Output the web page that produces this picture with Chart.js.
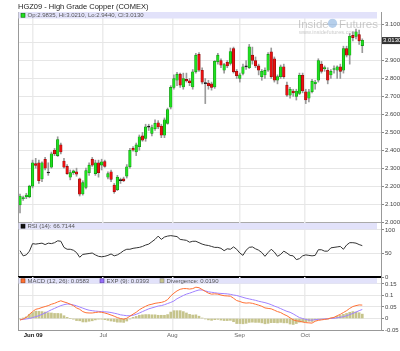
<!DOCTYPE html>
<html>
<head>
<meta charset="utf-8">
<script src="https://cdn.jsdelivr.net/npm/chart.js@4.4.0/dist/chart.umd.min.js"></script>
<style>
  body { margin: 0; background: #fff; width: 400px; height: 351px; overflow: hidden; }
  canvas { position: absolute; left: 0; top: 0; }
</style>
</head>
<body>
<canvas id="main" width="400" height="351"></canvas>
<canvas id="rsi" width="400" height="351"></canvas>
<canvas id="macd" width="400" height="351"></canvas>
<script>
// daily candles, late May to late Oct 2009
var opens = [2.095,2.130,2.140,2.140,2.200,2.325,2.330,2.240,2.350,2.273,2.305,2.400,2.370,2.430,2.340,2.310,2.250,2.275,2.280,2.240,
  2.156,2.193,2.275,2.350,2.270,2.330,2.317,2.337,2.250,2.280,2.206,2.180,2.231,2.240,2.256,2.308,2.410,2.390,2.420,2.480,
  2.466,2.529,2.494,2.520,2.553,2.535,2.484,2.550,2.640,2.750,2.790,2.824,2.753,2.795,2.787,2.753,2.837,2.934,2.846,2.772,
  2.775,2.770,2.753,2.893,2.900,2.846,2.890,2.884,2.967,2.840,2.800,2.828,2.866,2.860,2.930,2.900,2.870,2.810,2.820,2.846,
  2.948,2.910,2.790,2.810,2.865,2.763,2.707,2.730,2.700,2.717,2.818,2.726,2.690,2.726,2.770,2.790,2.880,2.855,2.846,2.820,
  2.850,2.846,2.865,2.846,2.967,2.930,3.040,3.035,3.045,2.9835];
var highs = [2.155,2.145,2.160,2.205,2.345,2.355,2.345,2.335,2.360,2.330,2.390,2.410,2.475,2.440,2.355,2.320,2.290,2.290,2.300,2.245,
  2.230,2.300,2.330,2.360,2.345,2.345,2.350,2.345,2.280,2.290,2.215,2.260,2.245,2.250,2.320,2.410,2.420,2.440,2.485,2.500,
  2.545,2.545,2.540,2.570,2.565,2.545,2.580,2.635,2.760,2.820,2.835,2.830,2.830,2.830,2.800,2.850,2.940,2.945,2.860,2.800,
  2.790,2.780,2.900,2.940,2.910,2.885,2.900,2.970,2.975,2.850,2.830,2.880,2.900,2.990,2.975,2.920,2.880,2.850,2.860,2.945,
  2.970,2.920,2.820,2.875,2.880,2.780,2.750,2.740,2.740,2.830,2.830,2.740,2.740,2.795,2.790,2.910,2.895,2.870,2.860,2.850,
  2.870,2.870,2.880,2.980,2.980,3.050,3.060,3.075,3.070,3.0210];
var lows = [2.050,2.120,2.130,2.135,2.190,2.300,2.215,2.225,2.290,2.260,2.300,2.370,2.365,2.380,2.300,2.265,2.235,2.265,2.255,2.145,
  2.150,2.185,2.260,2.310,2.260,2.250,2.290,2.305,2.240,2.225,2.160,2.175,2.215,2.225,2.245,2.300,2.395,2.370,2.400,2.450,
  2.450,2.510,2.480,2.510,2.520,2.470,2.470,2.545,2.630,2.740,2.760,2.750,2.740,2.780,2.760,2.740,2.830,2.840,2.770,2.660,
  2.740,2.735,2.745,2.880,2.860,2.830,2.860,2.875,2.830,2.800,2.780,2.820,2.850,2.855,2.880,2.860,2.820,2.790,2.800,2.840,
  2.800,2.780,2.770,2.800,2.800,2.700,2.690,2.700,2.680,2.710,2.720,2.660,2.670,2.720,2.740,2.780,2.830,2.840,2.770,2.800,
  2.830,2.800,2.800,2.830,2.920,2.880,3.010,3.020,2.990,2.9440];
var closes = [2.145,2.135,2.150,2.200,2.330,2.315,2.230,2.330,2.300,2.275,2.380,2.380,2.460,2.390,2.305,2.270,2.275,2.285,2.267,2.155,
  2.220,2.286,2.317,2.317,2.330,2.275,2.336,2.310,2.270,2.238,2.169,2.250,2.232,2.230,2.308,2.400,2.400,2.430,2.475,2.456,
  2.530,2.531,2.527,2.550,2.530,2.484,2.570,2.627,2.750,2.800,2.824,2.763,2.800,2.787,2.776,2.837,2.930,2.846,2.780,2.771,
  2.760,2.750,2.896,2.930,2.874,2.878,2.870,2.950,2.837,2.815,2.820,2.865,2.865,2.976,2.900,2.870,2.846,2.840,2.845,2.934,
  2.810,2.790,2.810,2.865,2.810,2.707,2.740,2.720,2.730,2.818,2.730,2.680,2.726,2.785,2.780,2.900,2.840,2.860,2.790,2.840,
  2.855,2.865,2.840,2.967,2.930,3.035,3.028,3.060,3.010,3.0130];

var rsi = [56,45,47,55,71,70,71,72,69,72,71,73,77,76,63,59,59,57,52,42,
  48,49,50,51,47,44,43,44,46,49,45,47,51,56,59,59,61,62,63,65,
  68,70,75,80,87,80,85,87,88,87,86,80,79,78,74,76,76,73,70,68,
  67,65,63,63,61,56,60,59,64,59,51,46,57,63,64,60,57,52,44,52,
  59,53,44,48,55,51,46,45,37,39,45,47,46,45,46,58,58,55,55,62,
  63,64,65,59,68,73,73,72,69,66.7144];

var macd = [-0.007,-0.002,0.005,0.018,0.030,0.040,0.043,0.048,0.052,0.056,0.062,0.066,0.072,0.077,0.072,0.068,0.062,0.056,0.046,0.040,
  0.030,0.025,0.024,0.024,0.026,0.028,0.027,0.024,0.020,0.015,0.010,0.004,0.000,-0.003,0.001,0.010,0.019,0.027,0.038,0.046,
  0.053,0.059,0.062,0.066,0.068,0.070,0.074,0.082,0.098,0.110,0.120,0.127,0.130,0.130,0.128,0.130,0.136,0.134,0.126,0.118,
  0.110,0.106,0.107,0.106,0.102,0.099,0.098,0.097,0.088,0.078,0.074,0.069,0.067,0.068,0.066,0.062,0.058,0.053,0.046,0.044,
  0.042,0.036,0.030,0.026,0.018,0.012,0.003,-0.006,-0.010,-0.012,-0.015,-0.018,-0.019,-0.020,-0.012,-0.008,-0.006,-0.004,-0.002,0.002,
  0.005,0.012,0.018,0.026,0.034,0.044,0.052,0.056,0.059,0.0583];
var signal = [-0.005,-0.004,-0.002,0.000,0.004,0.008,0.012,0.018,0.024,0.031,0.038,0.044,0.050,0.056,0.060,0.063,0.062,0.059,0.055,0.050,
  0.045,0.040,0.036,0.034,0.032,0.031,0.030,0.029,0.028,0.026,0.023,0.020,0.016,0.014,0.012,0.012,0.014,0.018,0.024,0.030,
  0.036,0.042,0.046,0.050,0.054,0.056,0.060,0.065,0.070,0.076,0.086,0.093,0.100,0.106,0.110,0.115,0.120,0.124,0.124,0.120,
  0.116,0.114,0.112,0.110,0.109,0.108,0.107,0.105,0.102,0.100,0.096,0.092,0.088,0.085,0.082,0.079,0.075,0.072,0.069,0.065,
  0.060,0.054,0.049,0.043,0.037,0.031,0.027,0.020,0.012,0.004,0.000,-0.004,-0.007,-0.007,-0.005,-0.004,-0.003,-0.002,-0.001,0.000,
  0.001,0.003,0.005,0.008,0.012,0.017,0.022,0.028,0.034,0.0393];
var divergence = [-0.002,0.002,0.007,0.018,0.026,0.032,0.031,0.030,0.028,0.025,0.024,0.022,0.022,0.021,0.012,0.005,0.000,-0.003,-0.009,-0.010,
  -0.015,-0.015,-0.012,-0.010,-0.006,-0.003,-0.003,-0.005,-0.008,-0.011,-0.013,-0.016,-0.016,-0.017,-0.011,-0.002,0.005,0.009,0.014,0.016,
  0.017,0.017,0.016,0.016,0.014,0.014,0.014,0.017,0.028,0.034,0.034,0.034,0.030,0.024,0.018,0.015,0.016,0.010,0.002,-0.002,
  -0.006,-0.008,-0.005,-0.004,-0.007,-0.009,-0.009,-0.008,-0.014,-0.022,-0.022,-0.023,-0.021,-0.017,-0.016,-0.017,-0.017,-0.019,-0.023,-0.021,
  -0.018,-0.018,-0.019,-0.017,-0.019,-0.019,-0.024,-0.026,-0.022,-0.016,-0.015,-0.014,-0.012,-0.013,-0.007,-0.004,-0.003,-0.002,-0.001,0.002,
  0.004,0.009,0.013,0.018,0.022,0.027,0.030,0.028,0.025,0.0190];

var monthPos = [4.2, 26.5, 48.5, 69.9, 90.8];
var monthLabels = ['Jun 09', 'Jul', 'Aug', 'Sep', 'Oct'];
var priceTicks = [2.0, 2.1, 2.2, 2.3, 2.4, 2.5, 2.6, 2.7, 2.8, 2.9, 3.0, 3.1];
var rsiTicks = [0, 50, 100];
var macdTicks = [-0.05, 0, 0.05, 0.1, 0.15];

var FONT = "'Liberation Sans', Arial, sans-serif";
var BAND = 'rgb(226,226,250)';
var last = closes.length - 1;

var idx = closes.map(function (v, i) { return i; });
var bodies = idx.map(function (i) { return { x: i, y: [opens[i], closes[i]] }; });
var wicks = idx.map(function (i) { return { x: i, y: [lows[i], highs[i]] }; });
var bodyFill = idx.map(function (i) {
  if (Math.abs(closes[i] - opens[i]) < 0.003) return '#111';
  return closes[i] > opens[i] ? '#1fe01f' : '#ea1010';
});
var bodyEdge = idx.map(function (i) {
  if (Math.abs(closes[i] - opens[i]) < 0.003) return '#111';
  return closes[i] > opens[i] ? '#0c8a0c' : '#8a0a0a';
});

function pts(arr) { return arr.map(function (v, i) { return { x: i, y: v }; }); }

function xAxis(showLabels) {
  return {
    type: 'linear', min: -0.64, max: 114.96, offset: false,
    afterBuildTicks: function (s) { s.ticks = monthPos.map(function (v) { return { value: v }; }); },
    afterFit: function (s) { s.height = showLabels ? 10 : 0; },
    grid: { color: '#ececec', lineWidth: 1.5, drawTicks: false, offset: false },
    border: { display: false },
    ticks: {
      display: showLabels, autoSkip: false, maxRotation: 0, padding: 2,
      callback: function (v, i) { return monthLabels[i]; },
      font: function (c) { return { family: FONT, size: 6, weight: c.index === 0 ? 'bold' : 'normal' }; },
      color: function (c) { return c.index === 0 ? '#111' : '#666'; }
    }
  };
}

function yAxis(min, max, ticks, fmt) {
  return {
    position: 'right', min: min, max: max,
    afterBuildTicks: function (s) { s.ticks = ticks.map(function (v) { return { value: v }; }); },
    afterFit: function (s) { s.width = 19; },
    grid: { color: '#e6e6e6', tickLength: 3, tickColor: '#888' },
    border: { color: '#999' },
    ticks: { padding: 1, font: { family: FONT, size: 6 }, color: '#444', callback: fmt }
  };
}

function swatch(ctx, x, y, fill, edge) {
  ctx.fillStyle = fill;
  ctx.fillRect(x, y - 2, 4, 4);
  ctx.strokeStyle = edge;
  ctx.lineWidth = 0.6;
  ctx.strokeRect(x, y - 2, 4, 4);
}

function legendBand(ctx, top, h, items) {
  ctx.save();
  ctx.fillStyle = BAND;
  ctx.fillRect(18.5, top, 358.5, h);
  ctx.font = '6px ' + FONT;
  ctx.textBaseline = 'middle';
  var mid = top + h / 2;
  items.forEach(function (it) {
    swatch(ctx, it.x, mid, it.color, it.edge);
    ctx.fillStyle = '#555';
    ctx.fillText(it.text, it.x + 6.5, mid + 0.3);
  });
  ctx.restore();
}

function line(ctx, x1, y1, x2, y2, color, w) {
  ctx.save();
  ctx.strokeStyle = color;
  ctx.lineWidth = w;
  ctx.beginPath();
  ctx.moveTo(x1, y1);
  ctx.lineTo(x2, y2);
  ctx.stroke();
  ctx.restore();
}

var common = {
  responsive: false, animation: false, events: [],
  plugins: { legend: { display: false }, tooltip: { enabled: false } }
};

// price panel
new Chart(document.getElementById('main'), {
  type: 'bar',
  data: {
    datasets: [
      { data: bodies, backgroundColor: bodyFill, borderColor: bodyEdge, borderWidth: 0.6,
        barThickness: 2.6, grouped: false, minBarLength: 1, borderSkipped: false },
      { data: wicks, backgroundColor: '#9a9a9a', barThickness: 1, grouped: false }
    ]
  },
  options: Object.assign({}, common, {
    layout: { padding: { left: 18, top: 12, right: 0, bottom: 129 } },
    scales: {
      x: xAxis(false),
      y: yAxis(2.0, 3.1706, priceTicks, function (v) { return v.toFixed(4); })
    }
  }),
  plugins: [{
    id: 'mainDecor',
    beforeDatasetsDraw: function (chart) {
      var ctx = chart.ctx;
      ctx.save();
      ctx.fillStyle = 'rgba(160,160,160,0.55)';
      ctx.font = '11.5px ' + FONT;
      ctx.textBaseline = 'alphabetic';
      ctx.fillText('Inside', 298, 27.5);
      ctx.fillText('Futures', 339, 27.5);
      ctx.fillStyle = 'rgba(110,160,215,0.5)';
      ctx.beginPath();
      ctx.arc(332.5, 23.3, 4.6, 0, Math.PI * 2);
      ctx.fill();
      ctx.fillStyle = 'rgba(160,160,160,0.55)';
      ctx.font = '5.6px ' + FONT;
      ctx.fillText('www.insidefutures.com', 299, 34);
      ctx.restore();
    },
    afterDraw: function (chart) {
      var ctx = chart.ctx, a = chart.chartArea;
      line(ctx, a.left + 0.5, a.top, a.left + 0.5, a.bottom, '#999', 1);
      line(ctx, a.left, a.bottom + 0.5, a.right, a.bottom + 0.5, '#aaa', 1);
      legendBand(ctx, 12, 6.5, [{
        x: 21, color: '#1fe01f', edge: '#0c6a0c',
        text: 'Op:' + opens[last].toFixed(4) + ', Hi:' + highs[last].toFixed(4) +
          ', Lo:' + lows[last].toFixed(4) + ', Cl:' + closes[last].toFixed(4)
      }]);
      ctx.save();
      ctx.fillStyle = '#222';
      ctx.font = '7.5px ' + FONT;
      ctx.textBaseline = 'alphabetic';
      ctx.fillText('HGZ09 - High Grade Copper (COMEX)', 18, 8.6);
      var py = chart.scales.y.getPixelForValue(closes[last]);
      ctx.fillStyle = '#333';
      ctx.fillRect(382, py - 3.2, 18, 7);
      ctx.fillStyle = '#fff';
      ctx.font = '6px ' + FONT;
      ctx.textBaseline = 'middle';
      ctx.fillText(closes[last].toFixed(4), 383, py + 0.4);
      ctx.restore();
    }
  }]
});

// RSI panel
new Chart(document.getElementById('rsi'), {
  type: 'line',
  data: {
    datasets: [{ data: pts(rsi), borderColor: '#333', borderWidth: 1, pointRadius: 0, tension: 0 }]
  },
  options: Object.assign({}, common, {
    layout: { padding: { left: 18, top: 222, right: 0, bottom: 74 } },
    scales: {
      x: xAxis(false),
      y: yAxis(0, 117, rsiTicks, function (v) { return String(v); })
    }
  }),
  plugins: [{
    id: 'rsiDecor',
    afterDraw: function (chart) {
      var ctx = chart.ctx, a = chart.chartArea;
      line(ctx, a.left + 0.5, a.top, a.left + 0.5, a.bottom, '#999', 1);
      legendBand(ctx, 223, 6.3, [{ x: 21, color: '#111', edge: '#000', text: 'RSI (14): ' + rsi[last].toFixed(4) }]);
      line(ctx, a.left, 277, a.right, 277, '#000', 2);
    }
  }]
});

// MACD panel
new Chart(document.getElementById('macd'), {
  type: 'bar',
  data: {
    datasets: [
      { type: 'line', data: pts(macd), borderColor: 'rgb(255,112,52)', borderWidth: 1, pointRadius: 0, tension: 0 },
      { type: 'line', data: pts(signal), borderColor: 'rgb(160,130,255)', borderWidth: 1, pointRadius: 0, tension: 0 },
      { type: 'bar', data: pts(divergence), backgroundColor: 'rgb(198,196,140)', barThickness: 2, grouped: false }
    ]
  },
  options: Object.assign({}, common, {
    layout: { padding: { left: 18, top: 277, right: 0, bottom: 11 } },
    scales: {
      x: xAxis(true),
      y: yAxis(-0.05, 0.1804, macdTicks, function (v) { return String(Math.round(v * 100) / 100); })
    }
  }),
  plugins: [{
    id: 'macdDecor',
    afterDraw: function (chart) {
      var ctx = chart.ctx, a = chart.chartArea;
      line(ctx, a.left + 0.5, a.top, a.left + 0.5, a.bottom, '#999', 1);
      line(ctx, a.left, a.bottom + 0.5, a.right, a.bottom + 0.5, '#999', 1);
      legendBand(ctx, 278, 5.6, [
        { x: 21, color: 'rgb(255,112,52)', edge: '#a04010', text: 'MACD (12, 26): ' + macd[last].toFixed(4) },
        { x: 100, color: 'rgb(150,110,250)', edge: '#5a3aa0', text: 'EXP (9): ' + signal[last].toFixed(4) },
        { x: 160, color: 'rgb(198,196,140)', edge: '#888', text: 'Divergence: ' + divergence[last].toFixed(4) }
      ]);
    }
  }]
});
</script>
</body>
</html>
